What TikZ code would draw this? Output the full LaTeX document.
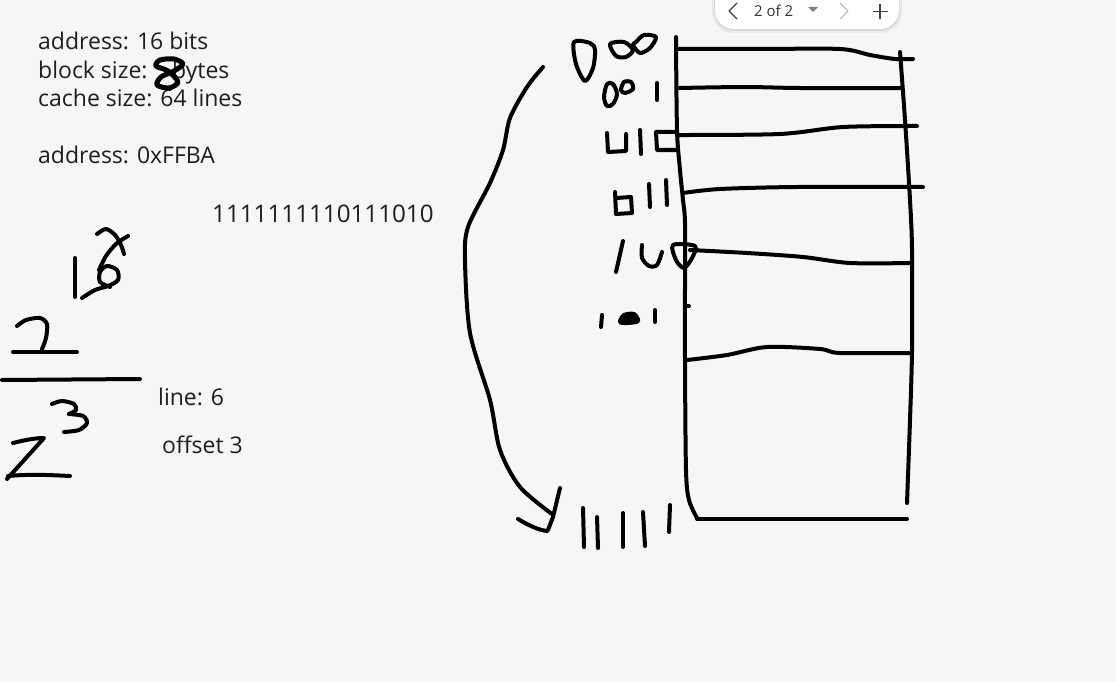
\documentclass[tikz,border=0pt]{standalone}
\usepackage{fontspec}
\setmainfont{Open Sans}
\definecolor{bgc}{HTML}{F6F6F6}
\definecolor{txc}{HTML}{1E1E1E}
\begin{document}
\begin{tikzpicture}[x=1pt,y=-1pt,
  ink/.style={line width=4pt,line cap=round,line join=round,black},
  txt/.style={anchor=base west,inner sep=0pt,font=\fontsize{23}{28}\selectfont,text=txc},
  bigtxt/.style={txt,font=\fontsize{24.2}{28}\selectfont}]
\useasboundingbox (0,0) rectangle (1116,682);
\fill[bgc] (0,0) rectangle (1116,682);

% ---------- typed text ----------
\node[txt] (t1) at (38,50) {address: 16 bits};
\node[txt] (t2) at (38,79) {block size:};
\node[txt] (t2b) at (172,79) {bytes};
\node[txt] (t3) at (38,107) {cache size: 64 lines};
\node[txt] (t4) at (38,164) {address: 0xFFBA};
\node[bigtxt] (bin) at (212,222) {1111111110111010};
\node[txt] (l6) at (158,405) {line: 6};
\node[txt] (off) at (162,453) {offset 3};

% ---------- toolbar pill ----------
\fill[black,opacity=.05,rounded corners=21pt] (712,-20) rectangle (902,33);
\fill[black,opacity=.07,rounded corners=20pt] (714,-20) rectangle (900,31);
\fill[white,rounded corners=19pt] (715,-20) rectangle (899,29);
\draw[line width=1.3pt,black!75,line cap=round,line join=round] (737,3) -- (729,11) -- (737,19);
\node[anchor=base west,inner sep=0pt,font=\fontsize{15}{18}\selectfont,text=black!80] (pg) at (754,17) {2 of 2};
\fill[gray] (808,7) -- (818,7) -- (813,12) -- cycle;
\draw[line width=1.1pt,black!25,line cap=round,line join=round] (840,3) -- (848,11) -- (840,19);
\draw[line width=1.3pt,black!75] (880,4) -- (880,19) (872.5,11.5) -- (887.5,11.5);

% ---------- handwritten 8 over "b" ----------
\draw[ink,line width=5pt] plot[smooth cycle] coordinates {(168,71) (156,66) (160,60) (174,59) (183,64) (174,71) (161,77) (157,85) (169,88) (178,82)};

% ---------- left handwritten math ----------
\draw[ink] (75,258) -- (75,297);
\draw[ink] plot[smooth] coordinates {(97,234) (106,229) (115,235) (121,245) (124,254)};
\draw[ink] plot[smooth] coordinates {(128,236) (116,244) (106,256) (99,270)};
\draw[ink] plot[smooth] coordinates {(82,298) (95,290) (108,286) (118,280) (117,270) (107,266) (100,272) (100,282) (110,287)};
% numerator 2
\draw[ink] plot[smooth] coordinates {(17,326) (26,320) (40,318) (47,324) (46,338) (42,349)};
\draw[ink] (13,352) -- (77,352);
% fraction bar
\draw[ink] (2,380) -- (140,379);
% exponent 3
\draw[ink] plot[smooth] coordinates {(52,404) (62,401) (74,404) (76,410) (69,414)};
\draw[ink] plot[smooth] coordinates {(69,414) (83,416) (87,423) (79,430) (64,432)};
% Z
\draw[ink] (13,443) .. controls (25,440) and (35,438) .. (44,438) -- (7,479);
\draw[ink] (8,476) .. controls (30,474) and (50,475) .. (70,476);

% ---------- binary row labels ----------
% 000
\draw[ink] plot[smooth cycle] coordinates {(574,42) (576,64) (585,81) (593,68) (595,50) (590,43)};
\draw[ink] plot[smooth cycle] coordinates {(610,44) (616,56) (626,57) (633,50) (624,42)};
\draw[ink] plot[smooth cycle] coordinates {(633,45) (640,53) (650,48) (656,37) (644,35) (636,42)};
% 001
\draw[ink] plot[smooth cycle] coordinates {(607,84) (604,97) (607,106) (613,104) (617,94) (613,84)};
\draw[ink] plot[smooth cycle] coordinates {(621,90) (624,82) (631,82) (633,89) (625,93)};
\draw[ink] (657,83) -- (657,100);
% 010
\draw[ink] (607,133) -- (608,152) -- (626,151) -- (626,134);
\draw[ink] (640,130) -- (641,154);
\draw[ink] (676,132) -- (656,132) -- (657,150) -- (676,150);
% 011
\draw[ink] (615,192) -- (616,214) -- (632,213) -- (631,197) -- (616,198);
\draw[ink] (649,184) -- (650,207);
\draw[ink] (666,180) -- (667,205);
% 100
\draw[ink] (623,241) -- (616,272);
\draw[ink] plot[smooth] coordinates {(642,245) (642,258) (649,266) (657,265) (662,252)};
\draw[ink] plot[smooth cycle] coordinates {(673,245) (695,246) (692,258) (684,268) (676,260)};
% 101
\draw[ink] (602,315) -- (601,327);
\draw[ink,fill=black] plot[smooth cycle] coordinates {(620,322) (624,315) (634,314) (638,321) (628,323)};
\draw[ink] (655,310) -- (655,322);
% 11111
\draw[ink] (583,508) -- (584,547);
\draw[ink] (597,517) -- (598,548);
\draw[ink] (623,513) -- (623,547);
\draw[ink] (643,512) -- (645,546);
\draw[ink] (670,505) -- (669,532);

% ---------- cache table ----------
\draw[ink] plot[smooth] coordinates {(676,37) (677,130) (680,170) (683,200) (685,222) (685,280) (685,360) (686,470) (689,500) (697,518)};
\draw[ink] plot[smooth] coordinates {(900,52) (905,120) (910,200) (912,250) (912,350) (910,420) (907,503)};
\draw[ink] (697,519) -- (907,519);
\draw[ink] plot[smooth] coordinates {(677,49) (760,49) (840,49) (870,55) (895,59) (913,59)};
\draw[ink] plot[smooth] coordinates {(679,88) (745,87) (800,88) (900,88)};
\draw[ink] plot[smooth] coordinates {(677,135) (780,134) (843,127) (917,126)};
\draw[ink] plot[smooth] coordinates {(683,193) (720,189) (797,187) (923,187)};
\draw[ink] plot[smooth] coordinates {(690,250) (747,253) (803,257) (850,263) (910,263)};
\draw[ink] plot[smooth] coordinates {(687,360) (727,355) (767,347) (820,349) (840,353) (912,353)};
\draw[ink] (686,306) -- (689,306);

% ---------- curved arrow ----------
\draw[ink] plot[smooth] coordinates {(543,67) (527,87) (510,118) (503,150) (490,183) (468,227) (465,260) (470,333) (490,400) (500,450) (520,487) (552,514)};
\draw[ink] (560,488) -- (553,517) -- (548,530);
\draw[ink] (518,519) .. controls (528,525) and (538,530) .. (547,531);
\end{tikzpicture}
\end{document}
